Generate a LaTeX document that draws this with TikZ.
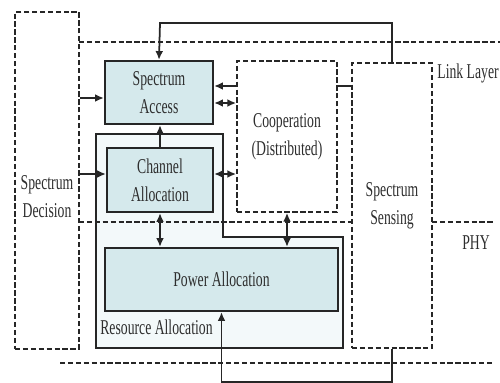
\documentclass[tikz,border=0pt]{standalone}
\usepackage{fontspec}
\setmainfont[FakeStretch=0.65]{Liberation Serif}
\usepackage{xcolor}
\usepackage{tikz}
\usetikzlibrary{arrows.meta,backgrounds}

\definecolor{boxfill}{HTML}{D5E9EC}
\definecolor{resfill}{HTML}{F3F9FA}
\definecolor{txtgray}{HTML}{2E2E2E}

\tikzset{
	lbl/.style={text=txtgray, font=\fontsize{12}{16}\selectfont, align=center, inner sep=0pt},
	blockbox/.style={lbl, draw=black!85, line width=1.3pt, fill=boxfill},
	dashbox/.style={lbl, draw=black!85, line width=1pt, dash pattern=on 3pt off 1.5pt},
	layerline/.style={draw=black!85, line width=1pt, dash pattern=on 3pt off 1.5pt},
	link/.style={draw=black!85, line width=1pt, -{Latex[length=5pt,width=4.5pt]}},
	dlink/.style={draw=black!85, line width=1pt, {Latex[length=5pt,width=4.5pt]}-{Latex[length=5pt,width=4.5pt]}},
}

\begin{document}
\begin{tikzpicture}
	\useasboundingbox (0,0) rectangle (10,-7.66);
	
	% resource allocation area
	\draw[fill=resfill, draw=black!85, line width=1.3pt] (1.92,-2.68) -- (4.46,-2.68) -- (4.46,-4.74) -- (6.86,-4.74) -- (6.86,-6.96) -- (1.92,-6.96) -- cycle;
	\node[lbl, anchor=west] (restxt) at (2.0,-6.54) {Resource Allocation};
	
	% layer borders
	\draw[layerline] (1.58,-0.84) -- (10,-0.84);
	\draw[layerline] (1.58,-4.44) -- (7.04,-4.44);
	\draw[layerline] (8.64,-4.44) -- (9.86,-4.44);
	\draw[layerline] (1.2,-7.26) -- (9.86,-7.26);
	\node[lbl, anchor=east] (linktxt) at (9.98,-1.46) {Link Layer};
	\node[lbl] (phytxt) at (9.52,-4.86) {PHY};
	
	% blocks
	\node[dashbox, minimum width=1.28cm, minimum height=6.74cm] (decision) at (0.94,-3.61) {};
	\node[lbl] (decisiontxt) at (0.94,-3.94) {Spectrum\\Decision};
	\node[blockbox, minimum width=2.16cm, minimum height=1.26cm] (access) at (3.18,-1.85) {Spectrum\\Access};
	\node[blockbox, minimum width=2.12cm, minimum height=1.28cm] (channel) at (3.2,-3.6) {Channel\\Allocation};
	\node[blockbox, minimum width=4.66cm, minimum height=1.26cm] (power) at (4.43,-5.59) {Power Allocation};
	\node[dashbox, fill=white, minimum width=2.0cm, minimum height=3.02cm] (coop) at (5.74,-2.73) {Cooperation\\(Distributed)};
	\node[dashbox, minimum width=1.6cm, minimum height=5.7cm] (sensing) at (7.84,-4.11) {Spectrum\\Sensing};
	
	\coordinate (topturn) at (3.2,-0.46);
	\coordinate (botturn) at (4.43,-7.64);
	\coordinate (accin) at ([yshift=-0.11cm]access.west);
	\coordinate (chanin) at ([yshift=0.12cm]channel.west);
	\coordinate (accsense) at ([yshift=0.13cm]access.east);
	\coordinate (acccoop) at ([yshift=-0.21cm]access.east);
	\coordinate (chancoop) at ([yshift=0.12cm]channel.east);
	
	% connectors
	\draw[link] (sensing.north) |- (topturn) -- (access.north);
	\draw[link] (decision.east |- accin) -- (accin);
	\draw[link] (decision.east |- chanin) -- (chanin);
	\begin{scope}[on background layer]
		\draw[link] (sensing.west |- accsense) -- (accsense);
	\end{scope}
	\draw[dlink] (acccoop) -- (coop.west |- acccoop);
	\draw[dlink] (chancoop) -- (coop.west |- chancoop);
	\draw[link] (channel.north) -- (channel.north |- access.south);
	\draw[dlink] (channel.south) -- (channel.south |- power.north);
	\draw[dlink] (coop.south) -- (coop.south |- power.north);
	\draw[link] (sensing.south) |- (botturn) -- (power.south);
\end{tikzpicture}
\end{document}
